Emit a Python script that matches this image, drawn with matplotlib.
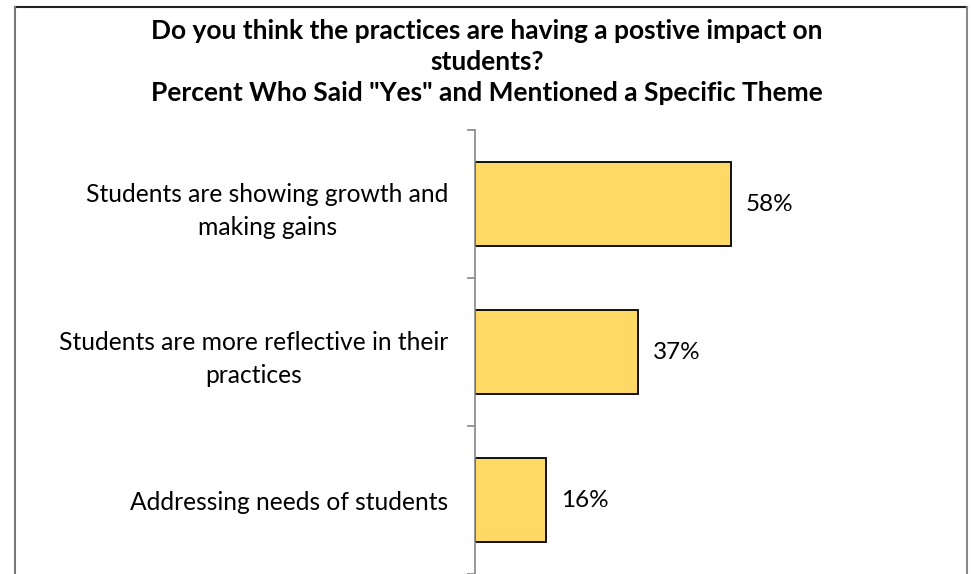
import matplotlib.pyplot as plt
from matplotlib.lines import Line2D

themes = [
    'Students are showing growth and\nmaking gains',
    'Students are more reflective in their\npractices',
    'Addressing needs of students',
]
pct_yes = [58, 37, 16]

title = ('Do you think the practices are having a postive impact on\n'
         'students?\n'
         'Percent Who Said "Yes" and Mentioned a Specific Theme')

plt.rcParams['font.family'] = ['Lato', 'DejaVu Sans']

W, H = 974, 574
fig = plt.figure(figsize=(W / 100, H / 100), dpi=100)
ax = fig.add_axes([475 / W, 0, 441 / W, 1 - 130 / H])

pos = list(range(len(themes)))
ax.barh(pos, pct_yes, height=0.57, color='#FFD966', edgecolor='black', linewidth=1.3)
for p, v in zip(pos, pct_yes):
    ax.text(v + 3.4, p, f'{v}%', va='center', ha='left', fontsize=17.5)

ax.set_xlim(0, 100)
ax.set_ylim(len(themes) - 0.5, -0.5)
ax.set_yticks(pos)
ax.set_yticklabels(themes, fontsize=17.7, multialignment='center', linespacing=1.5)
ax.tick_params(axis='y', which='major', length=0, pad=19)
ax.set_yticks([p - 0.5 for p in range(len(themes) + 1)], minor=True)
ax.tick_params(axis='y', which='minor', length=6, width=1.2, color='#868686', direction='out')
ax.set_xticks([])
for s in ['top', 'right', 'bottom']:
    ax.spines[s].set_visible(False)
ax.spines['left'].set_color('#868686')
ax.spines['left'].set_linewidth(1.2)

fig.text(487 / W, 1 - 19 / H, title, ha='center', va='top', fontsize=19,
         fontweight='bold', linespacing=1.36)

# outer frame of the chart area
x0, x1, y0 = 15 / W, 967 / W, 1 - 7 / H
fig.add_artist(Line2D([x0, x1], [y0, y0], color='#222222', lw=1.5))
fig.add_artist(Line2D([x0, x0], [0, y0], color='#777777', lw=1.5))
fig.add_artist(Line2D([x1, x1], [0, y0], color='#888888', lw=1.5))

fig.savefig('out.png', dpi=100)
